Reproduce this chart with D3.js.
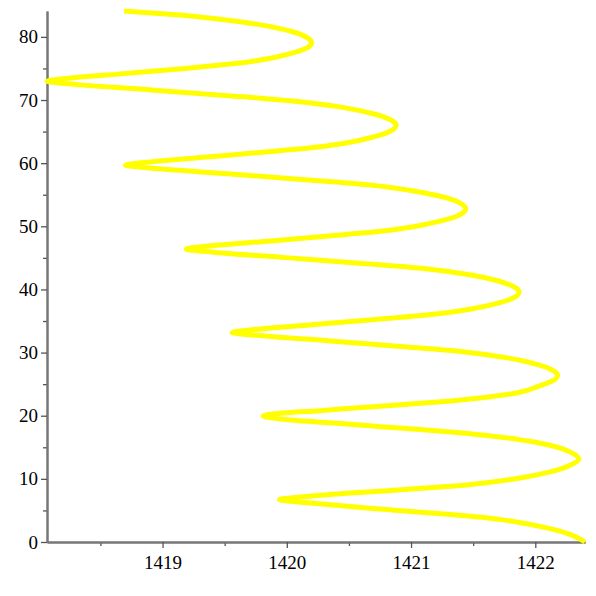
<!DOCTYPE html>
<html lang="en">
<head>
    <meta charset="utf-8">
    <title>curve</title>
    <style type="text/css">
        body { margin: 0; background: #fff; }
        .axis path.domain { stroke: #777; stroke-width: 2px; }
        .axis line { stroke: #555; stroke-width: 1.3px; }
        .axis text {
            font-family: "Liberation Serif", "Times New Roman", serif;
            font-size: 19px;
            fill: #000;
        }
        .curve { fill: none; stroke: #ffff00; stroke-width: 5px; stroke-linejoin: round; }
    </style>
</head>
<body>
<svg id="chart" width="596" height="596"></svg>
<script src="https://d3js.org/d3.v7.min.js"></script>
<script>
    // values (x = frequency, y = time)
    var freq = [
        1422.40, 1422.28, 1422.12, 1421.85, 1421.59, 1421.32, 1421.05, 1420.78, 1420.51, 1420.24, 1420.03, 1419.94,
        1420.11, 1420.51, 1420.78, 1421.05, 1421.32, 1421.59, 1421.85, 1422.12, 1422.28, 1422.35,
        1422.28, 1422.12, 1421.85, 1421.59, 1421.32, 1421.05, 1420.78, 1420.51, 1420.24, 1419.97, 1419.81,
        1419.97, 1420.24, 1420.51, 1420.78, 1421.05, 1421.32, 1421.59, 1421.85, 1422.04, 1422.16, 1422.18,
        1422.15, 1422.02, 1421.79, 1421.45, 1420.92, 1420.35, 1419.80, 1419.56,
        1419.77, 1420.25, 1420.76, 1421.22, 1421.52, 1421.73, 1421.85, 1421.87,
        1421.84, 1421.71, 1421.47, 1421.12, 1420.58, 1419.99, 1419.43, 1419.19,
        1419.39, 1419.87, 1420.36, 1420.81, 1421.10, 1421.31, 1421.42, 1421.44,
        1421.41, 1421.28, 1421.03, 1420.67, 1420.12, 1419.52, 1418.95, 1418.70,
        1418.90, 1419.35, 1419.83, 1420.27, 1420.55, 1420.75, 1420.86, 1420.88,
        1420.85, 1420.71, 1420.46, 1420.09, 1419.53, 1418.91, 1418.32, 1418.07,
        1418.26, 1418.71, 1419.18, 1419.60, 1419.88, 1420.07, 1420.18, 1420.20,
        1420.17, 1420.04, 1419.79, 1419.43, 1419.08, 1418.69
    ];
    var time = [
        0, 1.22, 2.12, 3.17, 3.87, 4.34, 4.75, 5.18, 5.61, 6.09, 6.45, 6.72,
        7.13, 7.77, 8.08, 8.46, 8.83, 9.35, 10.05, 11.1, 12.16, 13.16,
        14.26, 15.32, 16.28, 16.91, 17.43, 17.86, 18.23, 18.65, 19.02, 19.45, 19.92,
        20.44, 20.76, 21.19, 21.55, 21.93, 22.35, 22.88, 23.61, 24.78, 25.75, 26.4,
        27.08, 28.1, 29.12, 30.07, 30.96, 31.84, 32.66, 33.2,
        33.71, 34.48, 35.31, 36.14, 37.04, 38.0, 38.96, 39.6,
        40.28, 41.3, 42.32, 43.27, 44.16, 45.04, 45.86, 46.4,
        46.91, 47.68, 48.51, 49.34, 50.24, 51.2, 52.16, 52.8,
        53.49, 54.53, 55.56, 56.53, 57.42, 58.32, 59.15, 59.7,
        60.2, 60.96, 61.78, 62.6, 63.48, 64.43, 65.37, 66.0,
        66.7, 67.75, 68.8, 69.78, 70.69, 71.6, 72.44, 73.0,
        73.49, 74.22, 75.01, 75.81, 76.66, 77.58, 78.49, 79.1,
        79.8, 80.85, 81.9, 82.88, 83.55, 84.1
    ];
    var xMajor = [1419, 1420, 1421, 1422];
    var xMinor = [1418.5, 1419.5, 1420.5, 1421.5];
    var yMajor = [0, 10, 20, 30, 40, 50, 60, 70, 80];
    var yMinor = [5, 15, 25, 35, 45, 55, 65, 75];

    var svg = d3.select('#chart'),
        width = +svg.attr('width'),
        height = +svg.attr('height'),
        margin = {top: 11, right: 11, bottom: 54, left: 47};

    var points = freq.map(function(f, i) { return [f, time[i]]; });

    var x = d3.scaleLinear()
        .domain(d3.extent(freq))
        .range([margin.left, width - margin.right]);
    var y = d3.scaleLinear()
        .domain([0, d3.max(time)])
        .range([height - margin.bottom, margin.top]);

    // minor ticks first, then the labelled ones
    svg.append('g')
        .attr('class', 'axis')
        .attr('transform', 'translate(0,' + y(0) + ')')
        .call(d3.axisBottom(x).tickValues(xMinor).tickSize(4).tickSizeOuter(0).tickFormat(''));
    svg.append('g')
        .attr('class', 'axis')
        .attr('transform', 'translate(0,' + y(0) + ')')
        .call(d3.axisBottom(x).tickValues(xMajor).tickSize(6).tickSizeOuter(0).tickPadding(8).tickFormat(d3.format('d')));

    svg.append('g')
        .attr('class', 'axis')
        .attr('transform', 'translate(' + x.range()[0] + ',0)')
        .call(d3.axisLeft(y).tickValues(yMinor).tickSize(4).tickSizeOuter(0).tickFormat(''));
    svg.append('g')
        .attr('class', 'axis')
        .attr('transform', 'translate(' + x.range()[0] + ',0)')
        .call(d3.axisLeft(y).tickValues(yMajor).tickSize(6).tickSizeOuter(0).tickPadding(3));

    // the curve: time grows steadily, so interpolate x as a function of y
    var line = d3.line()
        .x(function(d) { return x(d[0]); })
        .y(function(d) { return y(d[1]); })
        .curve(d3.curveMonotoneY);

    svg.append('path')
        .datum(points)
        .attr('class', 'curve')
        .attr('d', line);
</script>
</body>
</html>
